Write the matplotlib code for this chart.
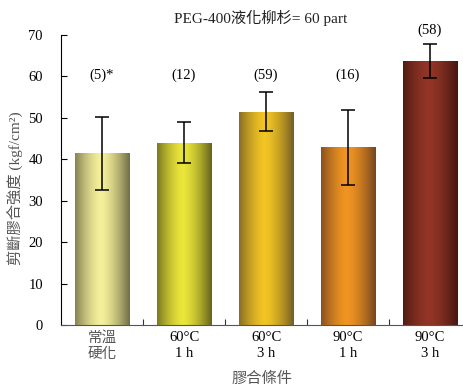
import numpy as np
import matplotlib.pyplot as plt
from matplotlib.colors import LinearSegmentedColormap

# data
cats = ['常溫\n硬化', '60°C\n1 h', '60°C\n3 h', '90°C\n1 h', '90°C\n3 h']
means = [41.4, 44.0, 51.5, 42.9, 63.7]
errs = [8.8, 5.0, 4.7, 9.0, 4.1]
counts = ['(5)*', '(12)', '(59)', '(16)', '(58)']

# edge colour, centre colour for each bar
edge_cols = ['#737048', '#68661c', '#766026', '#784620', '#461810']
mid_cols = ['#f5f09a', '#ebe63a', '#f2c423', '#f09522', '#923526']

serif = ['Liberation Serif', 'Noto Sans CJK TC']
cjk = ['Noto Sans CJK TC', 'Liberation Serif']

fig = plt.figure(figsize=(4.63, 3.86), dpi=100)
ax = fig.add_axes([61/463, (386-325)/386, 410/463, 290/386])

x = np.arange(len(cats))
bars = ax.bar(x, means, width=0.67, color='none', zorder=2)

# horizontal gradient fill: dark edges, bright middle
t = np.linspace(0, 1, 200)
prof = np.clip(1 - np.abs((t - 0.47) / 0.52) ** 1.5, 0, 1)
for b, ec, mc in zip(bars, edge_cols, mid_cols):
    cmap = LinearSegmentedColormap.from_list('g', [ec, mc])
    x0, w, h = b.get_x(), b.get_width(), b.get_height()
    im = ax.imshow(prof[np.newaxis, :], cmap=cmap, vmin=0, vmax=1,
                   extent=[x0, x0 + w, 0, h], aspect='auto', zorder=2,
                   interpolation='bilinear')
    im.set_clip_path(b)

ax.errorbar(x, means, yerr=errs, fmt='none', ecolor='black', elinewidth=1.1,
            capsize=5, capthick=1.1, zorder=3)

for xi, m, e, c in zip(x, means, errs, counts):
    y = max(60.4, m + e + 3.3)
    ax.text(xi, y, c, ha='center', va='center', fontsize=10.5, family=serif)

ax.set_xlim(-0.5, 4.5)
ax.set_ylim(0, 70)
ax.set_yticks(np.arange(0, 71, 10))
ax.set_xticks(np.arange(0.5, 4, 1))
ax.set_xticklabels([])
ax.set_xticks(x, minor=True)
ax.set_xticklabels(cats, minor=True)
ax.tick_params(axis='x', which='minor', length=0, pad=4)
ax.tick_params(axis='x', which='major', direction='in', length=4, color='#333333')
ax.tick_params(axis='y', direction='in', length=4, pad=13)
for lab in ax.get_yticklabels():
    lab.set_family(serif)
    lab.set_fontsize(10.5)
for lab in ax.get_xticklabels(minor=True):
    lab.set_family(serif)
    lab.set_fontsize(10.5)
    lab.set_linespacing(1.3)
ax.get_xticklabels(minor=True)[0].set_color('#555555')

ax.spines['top'].set_visible(False)
ax.spines['right'].set_visible(False)
ax.spines['bottom'].set_color('#555555')

fig.text(261/463, 1 - 18/386, 'PEG-400液化柳杉= 60 part', ha='center', va='center',
         fontsize=11, family=serif, color='#222222')
fig.text(15/463, 1 - 188/386, '剪斷膠合強度 (kgf/cm²)', rotation=90,
         ha='center', va='center', fontsize=11, family=serif, color='#555555')
fig.text(262/463, 1 - 378/386, '膠合條件', ha='center', va='center',
         fontsize=11, family=cjk, color='#555555')

fig.savefig('out.png', dpi=100)
